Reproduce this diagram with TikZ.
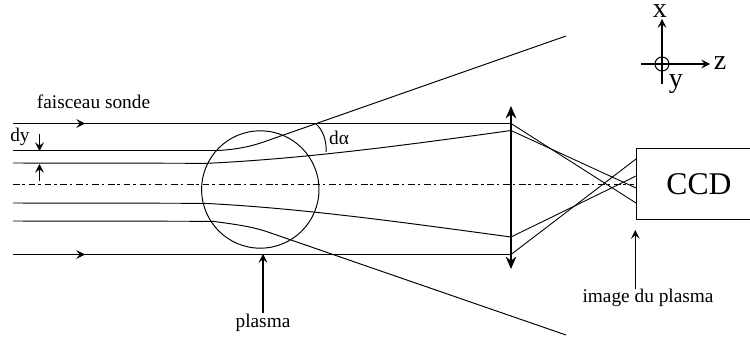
\documentclass[tikz,border=0pt]{standalone}
\usepackage{fontspec}
\setmainfont{Liberation Serif}
\usetikzlibrary{arrows.meta}
\tikzset{
  ray/.style={line width=0.55pt},
  mark arrow/.style={->,>={Stealth[length=5pt,width=5pt,inset=2pt]},line width=0.6pt},
  small label/.style={font=\fontsize{11}{13}\selectfont,inner sep=0pt},
  big label/.style={font=\fontsize{16}{18}\selectfont,inner sep=0pt}
}
\begin{document}
\begin{tikzpicture}[x=0.02cm,y=-0.02cm]
\useasboundingbox (0,0) rectangle (750,341);
% beam ends on the left
\coordinate (a1) at (13,123.5);
\coordinate (a2) at (13,150.5);
\coordinate (a3) at (13,163);
\coordinate (a4) at (13,203);
\coordinate (a5) at (13,221);
\coordinate (a6) at (13,254.5);
% points on the lens
\coordinate (l1) at (511,123.5);
\coordinate (l2) at (511,130.5);
\coordinate (l3) at (511,237);
\coordinate (l4) at (511,254.5);
% points on the camera
\coordinate (c1) at (636,203);
\coordinate (c2) at (636,188);
\coordinate (c3) at (636,176);
\coordinate (c4) at (636,159);
% beam
\draw[ray] (a1) -- (l1);
\draw[mark arrow] (a1) -- (85,123.5);
\draw[ray] (a6) -- (l4);
\draw[mark arrow] (a6) -- (85,254.5);
\draw[ray] (a2) -- (218,150.5) .. controls (235,149.5) and (250,147) .. (267,140.8) -- (566,36);
\draw[ray] (a3) -- (207,163.3) .. controls (300,159) and (400,146) .. (l2);
\draw[ray] (a4) -- (203,203.3) .. controls (300,208) and (400,222) .. (l3);
\draw[ray] (a5) -- (213,221.3) .. controls (232,224) and (250,226) .. (267,231.7) -- (566,335);
% after the lens
\draw[line width=0.5pt] (l1) -- (c1);
\draw[line width=0.5pt] (l2) -- (c2);
\draw[line width=0.5pt] (l3) -- (c3);
\draw[line width=0.5pt] (l4) -- (c4);
% optical axis
\draw[line width=0.45pt,dash pattern=on 3.8pt off 1.6pt on 1.4pt off 2.2pt] (13,184) -- (634,184);
% plasma
\node[circle,draw,line width=0.55pt,minimum size=2.348cm,inner sep=0pt] (plasma) at (260.3,189.5) {};
% lens
\draw[{Stealth[length=7pt,width=6pt]}-{Stealth[length=7pt,width=6pt]},line width=1.4pt] (511,106) -- (511,269);
% camera
\node[draw,line width=0.6pt,anchor=north west,minimum width=2.34cm,minimum height=1.42cm,inner sep=0pt] (ccd) at (636,148) {};
\node[font=\fontsize{18}{20}\selectfont,inner sep=0pt] (ccdtext) at (699,184) {CCD};
% labels
\node[small label] (sonde) at (93.5,102) {faisceau sonde};
\node[small label] (dy) at (20,137) {dy};
\coordinate (dy1) at (39.5,134);
\coordinate (dy2) at (39.5,151);
\coordinate (dy3) at (39.5,181);
\coordinate (dy4) at (39.5,164);
\draw[mark arrow] (dy1) -- (dy2);
\draw[mark arrow] (dy3) -- (dy4);
\coordinate (da1) at (316,124);
\coordinate (da2) at (326,152);
\draw[ray] (da1) .. controls (322,129) and (327,140) .. (da2);
\node[small label] (dalpha) at (339,138) {dα};
\node[small label] (plasmatext) at (263,323) {plasma};
\draw[mark arrow] (263,312.5) -- (263,254);
\node[small label] (image) at (648,298) {image du plasma};
\draw[mark arrow] (635.3,289) -- (635.3,230);
% axes
\coordinate (o) at (662,64);
\draw[mark arrow] (662,84) -- (662,19);
\draw[mark arrow] (641,64) -- (710,64);
\node[circle,draw,line width=0.6pt,minimum size=0.28cm,inner sep=0pt] (yaxis) at (o) {};
\node[big label] (xtext) at (660,11) {x};
\node[big label] (ztext) at (720,63) {z};
\node[big label] (ytext) at (676,84) {y};
\end{tikzpicture}
\end{document}
